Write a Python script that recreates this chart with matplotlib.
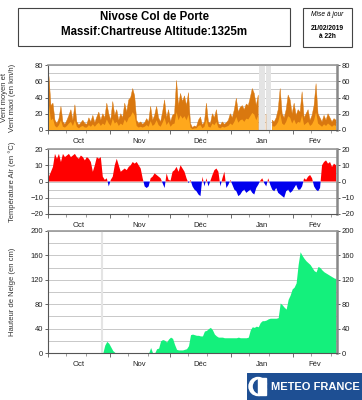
import numpy as np
import pandas as pd
import matplotlib
matplotlib.use('Agg')
import matplotlib.pyplot as plt
import matplotlib.dates as mdates
from matplotlib.patches import Rectangle, Circle
from matplotlib.ticker import MultipleLocator

plt.rcParams['font.family'] = ['Liberation Sans', 'DejaVu Sans']

# daily values from 2018-10-01 (one value per day, placed at noon)
wind_max = [66, 30, 33, 12, 8, 14, 29, 10, 7, 12,
            18, 25, 12, 31, 10, 6, 9, 12, 8, 7,
            15, 10, 18, 9, 16, 22, 12, 20, 15, 33,
            20, 12, 35, 18, 25, 12, 20, 15, 33, 22,
            37, 40, 51, 42, 12, 8, 10, 7, 9, 14,
            10, 29, 12, 18, 29, 15, 10, 22, 37, 15,
            25, 10, 18, 20, 61, 30, 45, 35, 42, 30,
            46, 8, 3, 5, 4, 12, 16, 6, 10, 33,
            10, 8, 20, 15, 25, 8, 6, 10, 7, 9,
            12, 20, 15, 25, 39, 22, 28, 30, 25, 32,
            30, 40, 51, 45, 30, 43, np.nan, np.nan, np.nan, 20,
            np.nan, np.nan, 12, 10, 15, 25, 51, 20, 15, 25,
            43, 37, 20, 33, 18, 25, 22, 47, 15, 20,
            25, 12, 18, 30, 57, 20, 15, 10, 18, 12,
            20, 15, 10, 14, 12]
wind_mean = [30, 12, 14, 5, 3, 6, 12, 4, 3, 5,
             8, 10, 5, 12, 4, 2, 4, 5, 3, 3,
             6, 4, 7, 4, 7, 9, 5, 8, 6, 13,
             8, 5, 14, 8, 10, 5, 8, 6, 13, 9,
             15, 17, 22, 18, 5, 3, 4, 3, 4, 6,
             4, 11, 5, 7, 12, 6, 4, 9, 15, 6,
             10, 4, 7, 8, 22, 12, 18, 14, 17, 12,
             19, 3, 1, 2, 2, 5, 6, 2, 4, 13,
             4, 3, 8, 6, 10, 3, 2, 4, 3, 4,
             5, 8, 6, 10, 16, 9, 12, 13, 10, 14,
             13, 17, 21, 19, 12, 18, np.nan, np.nan, np.nan, 8,
             np.nan, np.nan, 5, 4, 6, 10, 20, 8, 6, 10,
             17, 15, 8, 13, 7, 10, 9, 18, 6, 8,
             10, 5, 7, 12, 22, 8, 6, 4, 7, 5,
             8, 6, 4, 6, 5]
temp = [3, 6, 9, 17, 14, 17, 12, 17, 15, 16,
        17, 15, 16, 17, 15, 14, 16, 15, 13, 15,
        14, 12, 6, 10, 15, 14, 15, 3, 1, 2,
        -3, 1, 3, 10, 14, 10, 6, 7, 8, 7,
        9, 10, 12, 11, 12, 10, 8, 2, -3, -4,
        -3, 2, 3, 5, 4, 3, 2, -1, -4, 5,
        1, 0.5, 6, 7, 9, 6, 10, 8, 6, 2,
        -1, 1, -3, -5, -6, -8, -9, 3, -3, 2,
        -3, 0.5, 4, 7, 8, 6, -3, 2, 6, -4,
        -2, 1, -2, -5, -6, -9, -8, -6, -5, -7,
        -6, -5, -7, -8, -4, -2, 0.5, 2, -1, -3,
        2, -2, -5, -6, -4, -7, -8, -9, -10, -6,
        -5, -7, -6, -4, -2, -5, -5, -3, 2, 1,
        3, 4, 2, -3, -5, -6, -4, 10, 12, 13,
        11, 12, 9, 11, 10]
snow = [0, 0, 0, 0, 0, 0, 0, 0, 0, 0,
        0, 0, 0, 0, 0, 0, 0, 0, 0, 0,
        0, 0, 0, 0, 0, 0, 0, 0, 13, 19,
        16, 10, 4, 1, 0, 0, 0, 0, 0, 0,
        0, 0, 0, 0, 0, 0, 0, 0, 0, 0,
        0, 9, 0, 0, 7, 8, 20, 22, 21, 18,
        23, 26, 24, 14, 6, 5, 5, 5, 6, 7,
        12, 30, 31, 30, 29, 29, 28, 28, 36, 37,
        40, 42, 38, 31, 28, 26, 26, 26, 25, 25,
        25, 25, 25, 25, 25, 26, 25, 25, 25, 25,
        26, 38, 43, 42, 44, 43, 50, 53, 53, 54,
        56, 57, 57, 57, 57, 58, 82, 79, 75, 72,
        88, 95, 105, 108, 115, 145, 166, 160, 155, 151,
        148, 145, 140, 135, 133, 142, 140, 136, 133, 131,
        129, 127, 125, 123, 122]

months = ['Oct', 'Nov', 'Déc', 'Jan', 'Fév']
wind_gaps = [('2019-01-15', '2019-01-18'), ('2019-01-18 12:00', '2019-01-21')]
snow_gap = '2018-10-28'

days = pd.date_range('2018-10-01 12:00', periods=len(snow), freq='D')
assert len(wind_max) == len(wind_mean) == len(temp) == len(snow)
t0 = pd.Timestamp('2018-10-01')
t1 = pd.Timestamp('2019-02-23')

fig = plt.figure(figsize=(3.62, 4.0), dpi=100)
L, W = 48 / 362, 289 / 362
ax1 = fig.add_axes([L, 1 - 130 / 400, W, 65 / 400])
ax2 = fig.add_axes([L, 1 - 214 / 400, W, 65 / 400])
ax3 = fig.add_axes([L, 1 - 353 / 400, W, 122 / 400])

grid_c = '#c8c8c8'
for ax in (ax1, ax2, ax3):
    ax.set_xlim(t0, t1)
    ax.xaxis.set_major_locator(mdates.MonthLocator())
    ax.xaxis.set_minor_locator(mdates.DayLocator(bymonthday=[10, 20]))
    ax.xaxis.set_major_formatter(plt.NullFormatter())
    ax.tick_params(axis='x', which='major', length=3, width=0.6, color='#555')
    ax.tick_params(axis='x', which='minor', length=2, width=0.5, color='#777')
    ax.tick_params(axis='y', which='major', labelsize=5.5, length=2, width=0.5,
                   pad=1.5, right=True, labelright=True, colors='#222')
    ax.tick_params(axis='y', which='minor', length=0)
    ax.grid(True, axis='y', which='both', color=grid_c, lw=0.7)
    ax.set_axisbelow(True)
    ax.spines['left'].set_color('#555')
    ax.spines['left'].set_linewidth(0.8)
    ax.spines['bottom'].set_color('#555')
    ax.spines['bottom'].set_linewidth(0.8)
    ax.spines['top'].set_color('#999')
    ax.spines['top'].set_linewidth(1.2)
    ax.spines['right'].set_color('#888')
    ax.spines['right'].set_linewidth(1.8)
    # month labels centred on the visible part of each month
    starts = list(pd.date_range(t0, t1, freq='MS')) + [t1]
    for i, m in enumerate(months):
        mid = starts[i] + (starts[i + 1] - starts[i]) / 2
        ax.annotate(m, xy=(mid, 0), xycoords=('data', 'axes fraction'),
                    xytext=(0, -8), textcoords='offset points',
                    ha='center', va='center', fontsize=5.5, color='#222')

# wind
for a, b in wind_gaps:
    ax1.axvspan(pd.Timestamp(a), pd.Timestamp(b), color='#e4e4e4', lw=0, zorder=1)
ax1.fill_between(days, 0, wind_max, color='#d9780f', lw=0.3, zorder=2)
ax1.fill_between(days, 0, wind_mean, color='#ffa81c', lw=0, zorder=3)
ax1.set_ylim(0, 80)
ax1.yaxis.set_major_locator(MultipleLocator(20))
ax1.yaxis.set_minor_locator(MultipleLocator(10))
ax1.set_ylabel('Vent moyen et\nVent maxi (en km/h)', fontsize=5.5, color='#333',
               labelpad=6, linespacing=1.3)

# temperature
tv = np.array(temp, dtype=float)
ax2.fill_between(days, 0, tv, where=tv >= 0, interpolate=True, color='#ff0000', lw=0, zorder=2)
ax2.fill_between(days, 0, tv, where=tv <= 0, interpolate=True, color='#0000ee', lw=0, zorder=2)
ax2.set_ylim(-20, 20)
ax2.yaxis.set_major_locator(MultipleLocator(10))
ax2.yaxis.set_minor_locator(MultipleLocator(5))
ax2.set_ylabel('Température Air (en °C)', fontsize=5.5, color='#333', labelpad=2)

# snow depth
ax3.axvline(pd.Timestamp(snow_gap), color='#e4e4e4', lw=1.5, zorder=1)
ax3.fill_between(days, 0, snow, color='#14f07c', lw=0, zorder=2)
ax3.set_ylim(0, 200)
ax3.yaxis.set_major_locator(MultipleLocator(40))
ax3.yaxis.set_minor_locator(MultipleLocator(20))
ax3.set_ylabel('Hauteur de Neige (en cm)', fontsize=5.5, color='#333', labelpad=5)

for ax in (ax1, ax2, ax3):
    ax.yaxis.set_label_coords(-0.11, 0.5)

# title boxes
fig.patches.append(Rectangle((18 / 362, 1 - 46 / 400), 272 / 362, 38 / 400,
                             transform=fig.transFigure, fill=False, ec='#444', lw=0.8))
fig.text(154 / 362, 1 - 17 / 400, 'Nivose Col de Porte', ha='center', va='center',
         fontsize=8.3, fontweight='bold')
fig.text(154 / 362, 1 - 32 / 400, 'Massif:Chartreuse Altitude:1325m', ha='center',
         va='center', fontsize=8.3, fontweight='bold')
fig.patches.append(Rectangle((303 / 362, 1 - 47 / 400), 49 / 362, 39 / 400,
                             transform=fig.transFigure, fill=False, ec='#444', lw=0.8))
fig.text(327.5 / 362, 1 - 15 / 400, 'Mise à jour', ha='center', va='center',
         fontsize=4.8, style='italic')
fig.text(327.5 / 362, 1 - 29 / 400, '21/02/2019', ha='center', va='center',
         fontsize=4.8, fontweight='bold')
fig.text(327.5 / 362, 1 - 37 / 400, 'à 22h', ha='center', va='center',
         fontsize=4.8, fontweight='bold')

# logo
lg = fig.add_axes([247 / 362, 0, 115 / 362, 27 / 400])
lg.set_xlim(0, 115)
lg.set_ylim(0, 27)
lg.set_aspect('equal')
lg.axis('off')
lg.add_patch(Rectangle((0, 0), 115, 27, color='#1e4f93'))
lg.add_patch(Circle((11, 13.5), 9, color='white'))
lg.add_patch(Circle((13.5, 13.5), 7, color='#1e4f93'))
lg.add_patch(Rectangle((11, 5), 8, 17, color='white'))
lg.text(68, 13.5, 'METEO FRANCE', ha='center', va='center', fontsize=8,
        fontweight='bold', color='white')

fig.savefig('out.png', dpi=100)
